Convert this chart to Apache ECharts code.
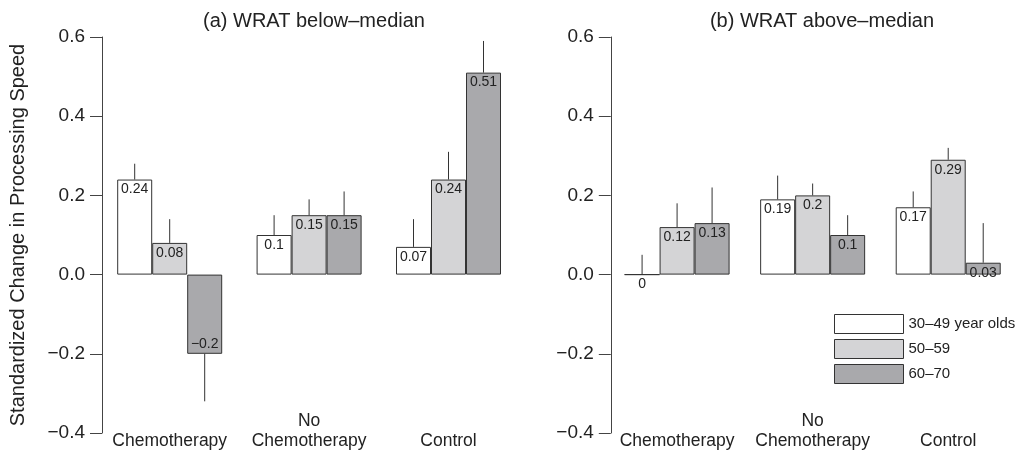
<!DOCTYPE html>
<html>
<head>
<meta charset="utf-8">
<script src="https://cdn.jsdelivr.net/npm/echarts@6/dist/echarts.min.js"></script>
<style>
html,body{margin:0;padding:0;background:#fff;}
#chart{width:1016px;height:452px;}
</style>
</head>
<body>
<div id="chart"></div>
<script>
// ---- data ----
const categories = ['Chemotherapy', 'No\nChemotherapy', 'Control'];
const ageGroups = ['30\u201349 year olds', '50\u201359', '60\u201370'];
const yTickLabels = ['\u22120.4', '\u22120.2', '0.0', '0.2', '0.4', '0.6'];
const panelTitles = ['(a) WRAT below\u2013median', '(b) WRAT above\u2013median'];
const yAxisTitle = 'Standardized Change in Processing Speed';

// (a) WRAT below-median: means and error-bar ends
const belowAge3049 = [0.24, 0.10, 0.07];
const belowAge5059 = [0.08, 0.15, 0.24];
const belowAge6070 = [-0.20, 0.15, 0.51];
const belowErr3049 = [0.28, 0.15, 0.14];
const belowErr5059 = [0.14, 0.19, 0.31];
const belowErr6070 = [-0.32, 0.21, 0.59];

// (b) WRAT above-median
const aboveAge3049 = [0, 0.19, 0.17];
const aboveAge5059 = [0.12, 0.20, 0.29];
const aboveAge6070 = [0.13, 0.10, 0.03];
const aboveErr3049 = [0.05, 0.25, 0.21];
const aboveErr5059 = [0.18, 0.23, 0.32];
const aboveErr6070 = [0.22, 0.15, 0.13];

// ---- styling ----
const FONT = '"Liberation Sans", Arial, Helvetica, sans-serif';
const TEXT = '#222';
const LINE = '#333';
const BAR_W = 35;
const fills = ['#ffffff', '#d4d4d6', '#a9a9ac'];

function fmt(v) {
  return v < 0 ? '\u2212' + String(-v) : String(v);
}

function barSeries(name, values, fill, gi) {
  return {
    type: 'bar',
    name: name,
    xAxisIndex: gi,
    yAxisIndex: gi,
    barWidth: BAR_W,
    barGap: '0%',
    itemStyle: { color: fill, borderColor: LINE, borderWidth: 1 },
    label: {
      show: true,
      fontFamily: FONT,
      fontSize: 14,
      color: TEXT,
      distance: 3,
      formatter: p => fmt(p.value)
    },
    data: values.map(v => ({
      value: v,
      label: { position: v < 0 ? 'insideBottom' : 'insideTop' }
    })),
    z: 2
  };
}

function errSeries(valSets, errSets, gi) {
  const rows = [];
  valSets.forEach((vals, s) => {
    vals.forEach((v, c) => rows.push([c, s, v, errSets[s][c]]));
  });
  return {
    type: 'custom',
    xAxisIndex: gi,
    yAxisIndex: gi,
    encode: { x: 0, y: [2, 3] },
    silent: true,
    z: 3,
    renderItem: (params, api) => {
      const c = api.value(0), s = api.value(1);
      const p0 = api.coord([c, api.value(2)]);
      const p1 = api.coord([c, api.value(3)]);
      const x = p0[0] + (s - 1) * BAR_W;
      return {
        type: 'line',
        shape: { x1: x, y1: p0[1], x2: x, y2: p1[1] },
        style: { stroke: LINE, lineWidth: 1 }
      };
    },
    data: rows
  };
}

function xAxis(gi) {
  return {
    type: 'category',
    gridIndex: gi,
    data: categories,
    axisLine: { show: false, onZero: false },
    axisTick: { show: false },
    axisLabel: {
      fontFamily: FONT, fontSize: 17.5, color: TEXT,
      lineHeight: 20, verticalAlign: 'bottom', margin: 18.5, interval: 0
    }
  };
}

function yAxis(gi, off, withName) {
  return {
    type: 'value',
    gridIndex: gi,
    min: -0.4, max: 0.6, interval: 0.2,
    offset: off,
    splitLine: { show: false },
    axisLine: { show: true, lineStyle: { color: '#444', width: 1 } },
    axisTick: { show: true, length: 12, lineStyle: { color: '#444' } },
    axisLabel: {
      fontFamily: FONT, fontSize: 19, color: TEXT, margin: 17,
      formatter: (v, i) => yTickLabels[i]
    },
    name: withName ? yAxisTitle : '',
    nameLocation: 'middle',
    nameGap: 74,
    nameTextStyle: { fontFamily: FONT, fontSize: 20, color: TEXT }
  };
}

const chart = echarts.init(document.getElementById('chart'), null, { renderer: 'canvas' });
chart.setOption({
  animation: false,
  backgroundColor: '#fff',
  textStyle: { fontFamily: FONT },
  grid: [
    { left: 100, top: 37, width: 418.2, height: 396 },
    { left: 609.3, top: 37, width: 417.6, height: 396 }
  ],
  xAxis: [xAxis(0), xAxis(1)],
  yAxis: [yAxis(0, -2, true), yAxis(1, -1.5, false)],
  legend: {
    orient: 'vertical',
    left: 834, top: 314,
    itemWidth: 69, itemHeight: 19, itemGap: 5,
    icon: 'rect',
    selectedMode: false,
    padding: 0,
    itemStyle: { borderColor: LINE, borderWidth: 1 },
    textStyle: { fontFamily: FONT, fontSize: 15, color: TEXT },
    data: ageGroups
  },
  graphic: [
    { type: 'text', x: 314, y: 21, style: { text: panelTitles[0], align: 'center', verticalAlign: 'middle', fontFamily: FONT, fontSize: 20, fill: TEXT } },
    { type: 'text', x: 822, y: 21, style: { text: panelTitles[1], align: 'center', verticalAlign: 'middle', fontFamily: FONT, fontSize: 20, fill: TEXT } }
  ],
  series: [
    barSeries(ageGroups[0], belowAge3049, fills[0], 0),
    barSeries(ageGroups[1], belowAge5059, fills[1], 0),
    barSeries(ageGroups[2], belowAge6070, fills[2], 0),
    errSeries([belowAge3049, belowAge5059, belowAge6070], [belowErr3049, belowErr5059, belowErr6070], 0),
    barSeries(ageGroups[0], aboveAge3049, fills[0], 1),
    barSeries(ageGroups[1], aboveAge5059, fills[1], 1),
    barSeries(ageGroups[2], aboveAge6070, fills[2], 1),
    errSeries([aboveAge3049, aboveAge5059, aboveAge6070], [aboveErr3049, aboveErr5059, aboveErr6070], 1)
  ]
});
</script>
</body>
</html>
